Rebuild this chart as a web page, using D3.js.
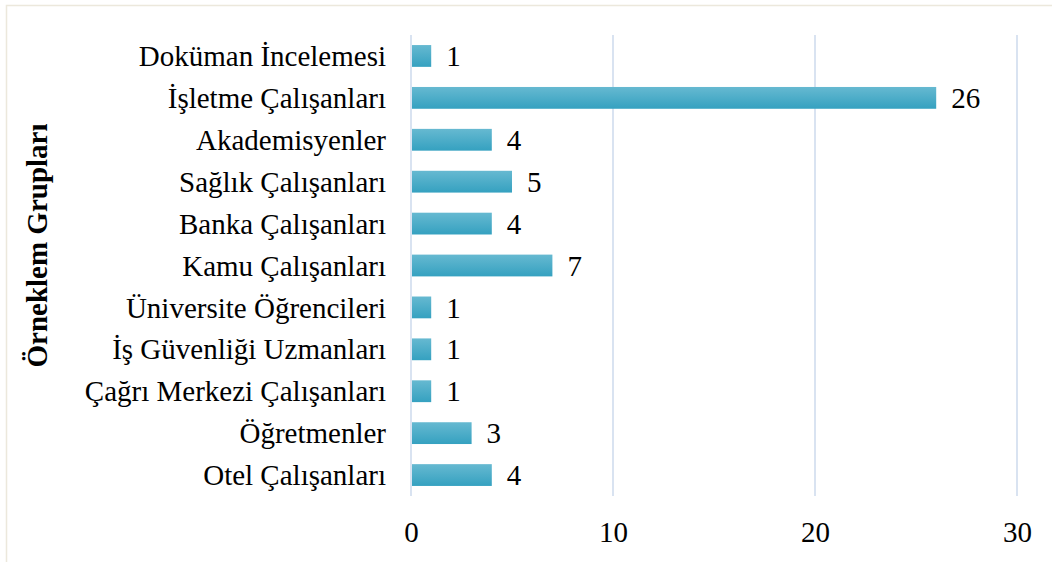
<!DOCTYPE html>
<html><head><meta charset="utf-8">
<script src="https://cdn.jsdelivr.net/npm/d3@7"></script>
<style>body{margin:0;background:#fff}svg{display:block}</style>
</head><body>
<svg id="c" width="1052" height="562"></svg>
<script>
const categories = ["Doküman İncelemesi","İşletme Çalışanları","Akademisyenler","Sağlık Çalışanları","Banka Çalışanları","Kamu Çalışanları","Üniversite Öğrencileri","İş Güvenliği Uzmanları","Çağrı Merkezi Çalışanları","Öğretmenler","Otel Çalışanları"];
const values = [1,26,4,5,4,7,1,1,1,3,4];
const xTicks = [0,10,20,30];
const yTitle = "Örneklem Grupları";

const svg = d3.select("#c");
const font = "'Liberation Serif','Times New Roman',serif";
const fs = 29;
const m = {left:411, right:1017, top:35, bottom:496};

svg.append("rect").attr("x",6.5).attr("y",5.5).attr("width",1100).attr("height",600)
  .attr("fill","#fff").attr("stroke","#ece8dc").attr("stroke-width",1.5);

const defs = svg.append("defs");
const g = defs.append("linearGradient").attr("id","bg").attr("x1",0).attr("y1",0).attr("x2",0).attr("y2",1);
g.append("stop").attr("offset","0%").attr("stop-color","#66b9d1");
g.append("stop").attr("offset","100%").attr("stop-color","#35a1c0");

const x = d3.scaleLinear().domain([0,30]).range([m.left,m.right]);
const y = d3.scaleBand().domain(categories).range([m.top,m.bottom]).paddingInner(0.48).paddingOuter(0.24);

svg.append("g").selectAll("line").data(xTicks).join("line")
  .attr("x1",d=>x(d)).attr("x2",d=>x(d)).attr("y1",m.top).attr("y2",m.bottom)
  .attr("stroke","#d9e3f1").attr("stroke-width",2);

svg.append("g").selectAll("rect").data(values).join("rect")
  .attr("x",x(0)+1).attr("y",(d,i)=>y(categories[i]))
  .attr("width",d=>x(d)-x(0)-1).attr("height",y.bandwidth())
  .attr("fill","url(#bg)");

svg.append("g").selectAll("text").data(values).join("text")
  .attr("x",d=>x(d)+15).attr("y",(d,i)=>y(categories[i])+y.bandwidth()/2)
  .attr("dy","0.35em").attr("font-family",font).attr("font-size",fs).attr("fill","#000")
  .text(d=>d);

svg.append("g").selectAll("text").data(categories).join("text")
  .attr("x",m.left-25).attr("y",d=>y(d)+y.bandwidth()/2).attr("dy","0.35em")
  .attr("text-anchor","end").attr("font-family",font).attr("font-size",fs).attr("fill","#000")
  .text(d=>d);

const xa = svg.append("g").attr("transform",`translate(0,${m.bottom})`)
  .call(d3.axisBottom(x).tickValues(xTicks).tickSize(0).tickPadding(25));
xa.select(".domain").remove();
xa.selectAll("text").attr("font-family",font).attr("font-size",fs).attr("fill","#000");

svg.append("text").attr("transform","translate(47,245.5) rotate(-90)")
  .attr("text-anchor","middle").attr("font-family",font).attr("font-size",fs).attr("font-weight","bold")
  .attr("fill","#000").text(yTitle);
</script>
</body></html>
